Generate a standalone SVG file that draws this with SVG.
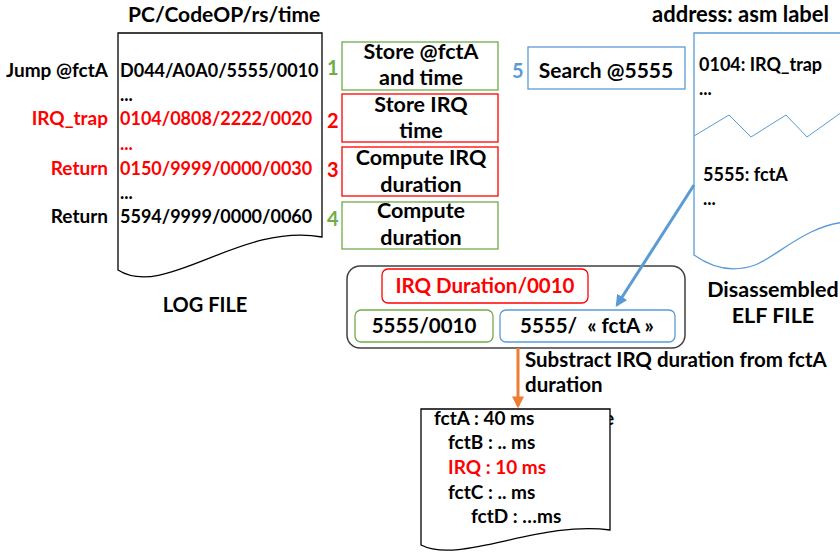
<svg xmlns="http://www.w3.org/2000/svg" width="840" height="554" viewBox="0 0 840 554">
<style>
text{font-family:Lato,"Open Sans","Liberation Sans",sans-serif;font-weight:bold;fill:#000}
.r{fill:#FF0000}.g{fill:#70AD47}.b{fill:#5B9BD5}
.t18{font-size:18px}.t19{font-size:19px}.t20{font-size:20px}.t21{font-size:21.5px}
.c{text-anchor:middle}.e{text-anchor:end}
.doc{fill:#fff;stroke:#000;stroke-width:1.3}
.box{fill:#fff;stroke-width:1.3}
</style>
<defs>
<marker id="ab" viewBox="0 0 10 10" refX="8" refY="5" markerWidth="4" markerHeight="4" orient="auto"><path d="M0,0 L10,5 L0,10 z" fill="#5B9BD5"/></marker>
<marker id="ao" viewBox="0 0 10 10" refX="8" refY="5" markerWidth="4" markerHeight="4" orient="auto"><path d="M0,0 L10,5 L0,10 z" fill="#ED7D31"/></marker>
</defs>
<rect width="840" height="554" fill="#fff"/>

<g id="logfile">
<text font-size="21" x="128" y="22">PC/CodeOP/rs/time</text>
<path class="doc" d="M118,33 L322,33 L322,237 C240,222 165,300 118,270 Z"/>
<text class="t19 e" x="108" y="77">Jump @fctA</text>
<text class="t19 r e" x="108" y="125">IRQ_trap</text>
<text class="t19 r e" x="108" y="175">Return</text>
<text class="t19 e" x="108" y="223">Return</text>
<text class="t18" x="120" y="77">D044/A0A0/5555/0010</text>
<text class="t18" x="120" y="101">...</text>
<text class="t18 r" x="120" y="125">0104/0808/2222/0020</text>
<text class="t18 r" x="120" y="150">...</text>
<text class="t18 r" x="120" y="175">0150/9999/0000/0030</text>
<text class="t18" x="120" y="199">...</text>
<text class="t18" x="120" y="223">5594/9999/0000/0060</text>
<text class="t20 c" x="205" y="312">LOG FILE</text>
</g>

<g id="numbers">
<text class="t20 g" x="327" y="75">1</text>
<text class="t20 r" x="327" y="128">2</text>
<text class="t20 r" x="327" y="177">3</text>
<text class="t20 g" x="327" y="226">4</text>
<text class="t20 b" x="512" y="78">5</text>
</g>

<g id="step1"><rect class="box" x="342" y="42" width="156" height="48" stroke="#70AD47"/>
<text class="t21 c" x="421" y="59">Store @fctA</text><text class="t21 c" x="421" y="85">and time</text></g>
<g id="step2"><rect class="box" x="342" y="94" width="156" height="48" stroke="#FF0000"/>
<text class="t21 c" x="421" y="112">Store IRQ</text><text class="t21 c" x="421" y="138">time</text></g>
<g id="step3"><rect class="box" x="342" y="147" width="156" height="49" stroke="#FF0000"/>
<text class="t21 c" x="421" y="165">Compute IRQ</text><text class="t21 c" x="421" y="192">duration</text></g>
<g id="step4"><rect class="box" x="342" y="202" width="156" height="47" stroke="#70AD47"/>
<text class="t21 c" x="421" y="218">Compute</text><text class="t21 c" x="421" y="245">duration</text></g>
<g id="step5"><rect class="box" x="528" y="47" width="157" height="42" stroke="#5B9BD5"/>
<text font-size="21" class="c" x="606" y="78">Search @5555</text></g>

<g id="elffile">
<text font-size="22" x="652" y="22">address: asm label</text>
<path d="M850,33 L694,33 L694,255 C715,270 735,272 755,265 S810,222 850,222" fill="#fff" stroke="#5B9BD5" stroke-width="1.3"/>
<polyline points="694,136 729,115 751,137 786,115 807,137 842,112" fill="none" stroke="#5B9BD5" stroke-width="1"/>
<text class="t18" x="699" y="71">0104: IRQ_trap</text>
<text class="t18" x="699" y="95">...</text>
<text class="t18" x="703" y="181">5555: fctA</text>
<text class="t18" x="703" y="205">...</text>
<text font-size="21.5" class="c" x="773" y="297">Disassembled</text>
<text font-size="21.5" class="c" x="773" y="323">ELF FILE</text>
</g>

<g id="group">
<rect x="347" y="266" width="338" height="82" rx="13" fill="#fff" stroke="#404040" stroke-width="1.5"/>
<g id="irqdur"><rect class="box" x="382" y="269" width="206" height="34" rx="6" stroke="#FF0000"/>
<text class="r c" font-size="20.5" x="485" y="293">IRQ Duration/0010</text></g>
<g id="fctdur"><rect class="box" x="355" y="310" width="138" height="32" rx="6" stroke="#70AD47"/>
<text class="c" font-size="20.5" x="424" y="333">5555/0010</text></g>
<g id="fctname"><rect class="box" x="500" y="310" width="175" height="32" rx="6" stroke="#5B9BD5"/>
<text class="c" font-size="20.5" x="587" y="333">5555/&#160; « fctA »</text></g>
</g>

<g id="connectors">
<line x1="694" y1="185" x2="617" y2="305" stroke="#5B9BD5" stroke-width="3" marker-end="url(#ab)"/>
<line x1="518" y1="348" x2="518" y2="406" stroke="#ED7D31" stroke-width="3" marker-end="url(#ao)"/>
</g>
<text font-size="20.5" x="525" y="367">Substract IRQ duration from fctA</text>
<text font-size="20.5" x="525" y="392">duration</text>

<g id="result">
<text class="t19" x="604" y="425">e</text>
<path class="doc" d="M421,409 L610,409 L610,530 C540,520 460,565 421,545 Z"/>
<text class="t19" x="434" y="425">fctA : 40 ms</text>
<text class="t19" x="448" y="449">fctB : .. ms</text>
<text class="t19 r" x="448" y="474">IRQ : 10 ms</text>
<text class="t19" x="448" y="499">fctC : .. ms</text>
<text class="t19" x="471" y="523">fctD : …ms</text>
</g>
</svg>
